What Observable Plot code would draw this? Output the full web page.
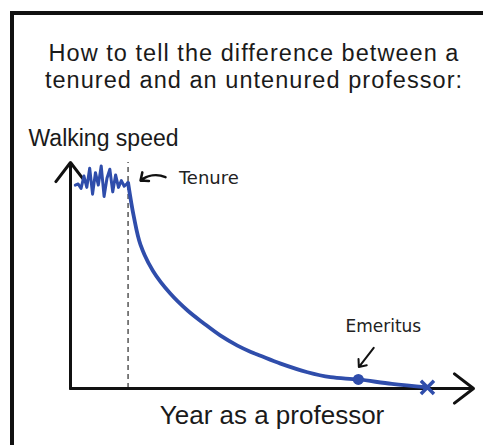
<!DOCTYPE html>
<html>
<head>
<meta charset="utf-8">
<script src="https://cdn.jsdelivr.net/npm/d3@7"></script>
<script src="https://cdn.jsdelivr.net/npm/@observablehq/plot@0.6"></script>
<style>
  html, body { margin: 0; padding: 0; background: #fff; overflow: hidden; width: 483px; height: 445px; }
  #frame { position: absolute; left: 10px; top: 11px; width: 520px; height: 480px; border: 4px solid #111; box-sizing: border-box; }
  #title { position: absolute; left: 0; top: 40px; width: 508px; text-align: center;
           font-family: "Liberation Sans", Arial, sans-serif; font-size: 23.5px; letter-spacing: 1.05px; line-height: 27px; color: #1a1a1a; white-space: nowrap; }
  #chart { position: absolute; left: 0; top: 100px; }
</style>
</head>
<body>
<div id="frame"></div>
<div id="title">How to tell the difference between a<br>tenured and an untenured professor:</div>
<div id="chart"></div>
<script>
// Pre-tenure: jittery walking speed
const preYears  = [0.5,0.8,1.1,1.4,1.7,2.0,2.3,2.6,2.9,3.2,3.5,3.8,4.1,4.4,4.7,5.0,5.3,5.6,6.0];
const preSpeeds = [9.0,9.05,8.85,9.4,8.9,9.75,8.6,9.55,9.0,9.85,8.5,9.3,9.7,8.7,9.45,8.9,9.2,8.95,9.1];
// Post-tenure: decaying walking speed
const postYears  = [6, 6.6, 7.3, 8.6, 10.4, 12.2, 13.9, 15.6, 17.4, 18.8, 19.8, 21.9, 24.7, 27.1, 30, 33.5, 37.2];
const postSpeeds = [9.1, 7.6, 6.35, 5.2, 4.2, 3.45, 2.88, 2.35, 1.9, 1.62, 1.45, 1.1, 0.72, 0.5, 0.4, 0.2, 0.05];
// Milestones
const tenureYear = 6;
const emeritus = {year: 30, speed: 0.4};
const retired = {year: 37.2, speed: 0.05};
// Labels
const yLabel = "Walking speed";
const xLabel = "Year as a professor";
const tenureLabel = {text: "Tenure", year: 11.3, speed: 9.3, arrowFrom: [9.9, 9.35], arrowTo: [7.3, 9.2]};
const emeritusLabel = {text: "Emeritus", year: 32.6, speed: 2.75, arrowFrom: [31.6, 1.8], arrowTo: [30.05, 0.95]};
const axisMax = {year: 42, speed: 10};

const pre = preYears.map((x, i) => ({x, y: preSpeeds[i]}));
const post = postYears.map((x, i) => ({x, y: postSpeeds[i]}));
const blue = "#2f4dab";
const hand = "'DejaVu Sans', sans-serif";

const chart = Plot.plot({
  width: 483,
  height: 345,
  marginLeft: 70,
  marginRight: 10,
  marginTop: 62,
  marginBottom: 57,
  x: {domain: [0, axisMax.year], axis: null},
  y: {domain: [0, axisMax.speed], axis: null},
  style: {fontFamily: "'Liberation Sans', Arial, sans-serif", background: "transparent"},
  marks: [
    Plot.ruleX([tenureYear], {y1: 0, y2: axisMax.speed, stroke: "#555", strokeWidth: 1.5, strokeDasharray: "5,4"}),
    Plot.arrow([{x1: 0, y1: 0, x2: 0, y2: axisMax.speed}], {x1: "x1", y1: "y1", x2: "x2", y2: "y2", stroke: "#111", strokeWidth: 3, headLength: 12, headAngle: 75}),
    Plot.arrow([{x1: 0, y1: 0, x2: axisMax.year, y2: 0}], {x1: "x1", y1: "y1", x2: "x2", y2: "y2", stroke: "#111", strokeWidth: 3, headLength: 12, headAngle: 75}),
    Plot.line(pre, {x: "x", y: "y", stroke: blue, strokeWidth: 3, curve: "linear", strokeLinejoin: "round"}),
    Plot.line(post, {x: "x", y: "y", stroke: blue, strokeWidth: 3.8, curve: "catmull-rom"}),
    Plot.dot([emeritus], {x: "year", y: "speed", r: 5.5, fill: blue}),
    Plot.dot([retired], {x: "year", y: "speed", r: 6, symbol: "times", stroke: blue, strokeWidth: 3.5}),
    Plot.text([tenureLabel], {x: "year", y: "speed", text: "text", textAnchor: "start", fontSize: 18, fontFamily: hand, fill: "#222"}),
    Plot.arrow([tenureLabel], {x1: d => d.arrowFrom[0], y1: d => d.arrowFrom[1], x2: d => d.arrowTo[0], y2: d => d.arrowTo[1], bend: -30, stroke: "#111", strokeWidth: 2.5, headLength: 7, headAngle: 80}),
    Plot.text([emeritusLabel], {x: "year", y: "speed", text: "text", textAnchor: "middle", fontSize: 17, fontFamily: hand, fill: "#222"}),
    Plot.arrow([emeritusLabel], {x1: d => d.arrowFrom[0], y1: d => d.arrowFrom[1], x2: d => d.arrowTo[0], y2: d => d.arrowTo[1], stroke: "#111", strokeWidth: 2, headLength: 7, headAngle: 80}),
    Plot.text([yLabel], {frameAnchor: "top-left", text: d => d, textAnchor: "start", lineAnchor: "bottom", dx: -42, dy: -17, fontSize: 23, fill: "#1a1a1a"}),
    Plot.text([xLabel], {frameAnchor: "bottom", text: d => d, textAnchor: "middle", lineAnchor: "bottom", dy: 35, fontSize: 26, fill: "#1a1a1a"})
  ]
});
document.getElementById("chart").appendChild(chart);
</script>
</body>
</html>
